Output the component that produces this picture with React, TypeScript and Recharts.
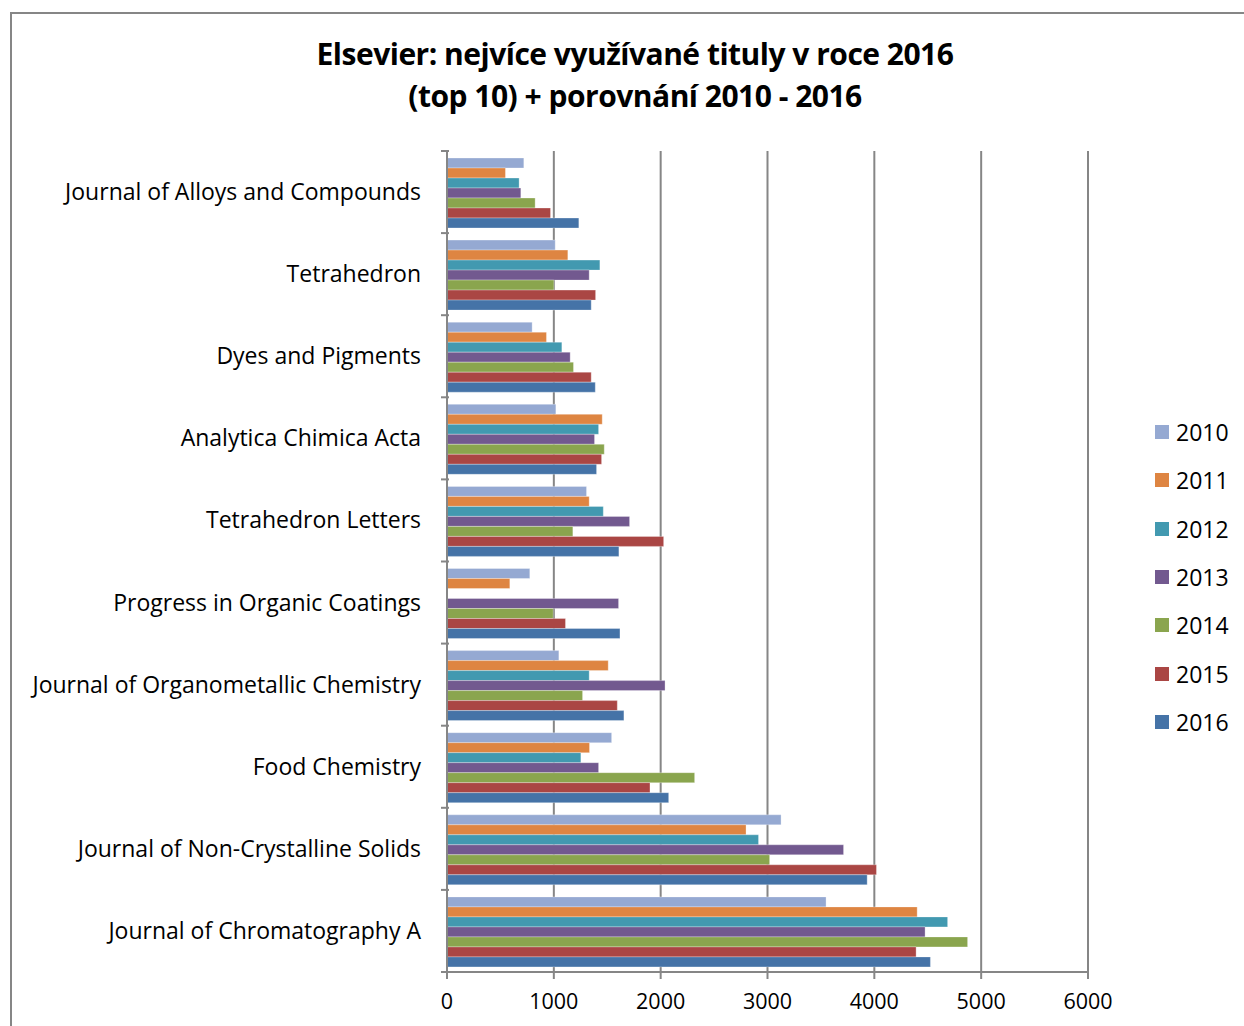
import React from "react";
import { Bar, BarChart, CartesianGrid, XAxis, YAxis } from "recharts";

const TITLES = [
  "Journal of Alloys and Compounds",
  "Tetrahedron",
  "Dyes and Pigments",
  "Analytica Chimica Acta",
  "Tetrahedron Letters",
  "Progress in Organic Coatings",
  "Journal of Organometallic Chemistry",
  "Food Chemistry",
  "Journal of Non-Crystalline Solids",
  "Journal of Chromatography A",
];

const Y2010 = [719, 1013, 797, 1019, 1306, 775, 1047, 1541, 3127, 3548];
const Y2011 = [547, 1131, 931, 1453, 1331, 588, 1509, 1334, 2799, 4401];
const Y2012 = [675, 1431, 1075, 1419, 1463, 0, 1331, 1253, 2916, 4686];
const Y2013 = [691, 1331, 1153, 1381, 1709, 1606, 2041, 1419, 3712, 4475];
const Y2014 = [825, 1000, 1184, 1472, 1178, 994, 1269, 2318, 3020, 4873];
const Y2015 = [969, 1391, 1350, 1447, 2028, 1109, 1594, 1900, 4020, 4391];
const Y2016 = [1234, 1350, 1388, 1400, 1609, 1619, 1656, 2075, 3933, 4525];

const X_TICKS = [0, 1000, 2000, 3000, 4000, 5000, 6000];

const SERIES = [
  { key: "y2010", name: "2010", color: "#95A9D2", values: Y2010 },
  { key: "y2011", name: "2011", color: "#DE8542", values: Y2011 },
  { key: "y2012", name: "2012", color: "#4299B0", values: Y2012 },
  { key: "y2013", name: "2013", color: "#72598F", values: Y2013 },
  { key: "y2014", name: "2014", color: "#8AA54E", values: Y2014 },
  { key: "y2015", name: "2015", color: "#AA4644", values: Y2015 },
  { key: "y2016", name: "2016", color: "#4573A7", values: Y2016 },
];

const data = TITLES.map((t, i) => {
  const row: Record<string, string | number> = { title: t };
  SERIES.forEach((s) => (row[s.key] = s.values[i]));
  return row;
});

const FONT = "'Open Sans', 'Noto Sans', sans-serif";
const AXIS_GREY = "#868686";

const CHART_W = 1228;
const CHART_H = 1010;
const MARGIN = { top: 137, right: 152, left: 0, bottom: 12 };
const X_AXIS_H = 40;
const PLOT_H = CHART_H - MARGIN.top - MARGIN.bottom - X_AXIS_H;
const BAND = PLOT_H / TITLES.length;

const CategoryTick = (props: any) => {
  const { x, y, payload, index } = props;
  const last = index === TITLES.length - 1;
  return (
    <g>
      <line x1={x + 2} x2={x + 10} y1={y - BAND / 2} y2={y - BAND / 2} stroke={AXIS_GREY} strokeWidth={2} />
      {last && (
        <line x1={x + 2} x2={x + 10} y1={y + BAND / 2} y2={y + BAND / 2} stroke={AXIS_GREY} strokeWidth={2} />
      )}
      <text x={x - 18} y={y} dy={8} textAnchor="end" fontSize={23} fill="#000" fontFamily={FONT}>
        {payload.value}
      </text>
    </g>
  );
};

export default function App() {
  return (
    <div
      style={{
        position: "absolute",
        left: 10,
        top: 12,
        width: 1240,
        height: 1020,
        borderTop: `2px solid ${AXIS_GREY}`,
        borderLeft: `2px solid ${AXIS_GREY}`,
        background: "#fff",
        fontFamily: FONT,
      }}
    >
      <div
        style={{
          position: "absolute",
          left: 0,
          width: 1246,
          top: 19,
          textAlign: "center",
          fontSize: 30,
          fontWeight: 700,
          lineHeight: "42px",
          color: "#000",
          letterSpacing: -0.5,
        }}
      >
        Elsevier: nejvíce využívané tituly v roce 2016
        <br />
        (top 10) + porovnání 2010 - 2016
      </div>
      <BarChart
        width={CHART_W}
        height={CHART_H}
        data={data}
        layout="vertical"
        margin={MARGIN}
        barGap={0}
        barCategoryGap={7}
      >
        <CartesianGrid horizontal={false} stroke={AXIS_GREY} strokeWidth={2} />
        <XAxis
          type="number"
          domain={[0, 6000]}
          ticks={X_TICKS}
          interval={0}
          height={X_AXIS_H}
          axisLine={{ stroke: AXIS_GREY, strokeWidth: 2 }}
          tickLine={{ stroke: AXIS_GREY, strokeWidth: 2 }}
          tickSize={7}
          tick={{ fontSize: 21.5, fill: "#000", fontFamily: FONT, dy: 13 }}
        />
        <YAxis
          type="category"
          dataKey="title"
          width={435}
          interval={0}
          axisLine={{ stroke: AXIS_GREY, strokeWidth: 2 }}
          tickLine={false}
          tick={<CategoryTick />}
        />
        {SERIES.map((s) => (
          <Bar
            key={s.key}
            dataKey={s.key}
            name={s.name}
            fill={s.color}
            stroke="rgba(255,255,255,0.5)"
            strokeWidth={0.6}
            isAnimationActive={false}
          />
        ))}
      </BarChart>
      <div style={{ position: "absolute", left: 1143, top: 394 }}>
        {SERIES.map((s) => (
          <div key={s.key} style={{ display: "flex", alignItems: "center", height: 48.3 }}>
            <span style={{ width: 14, height: 14, background: s.color, display: "inline-block", marginRight: 7 }} />
            <span style={{ fontSize: 23, color: "#000" }}>{s.name}</span>
          </div>
        ))}
      </div>
    </div>
  );
}
